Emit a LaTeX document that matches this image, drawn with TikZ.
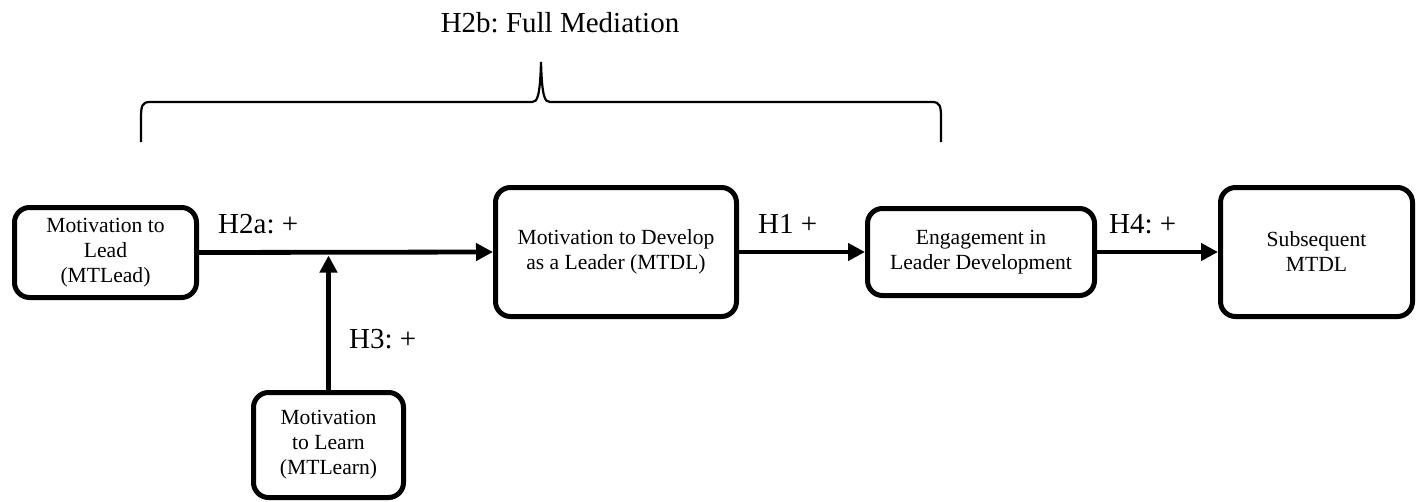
\documentclass[tikz,border=0pt]{standalone}
\usepackage{fontspec}
\setmainfont{Liberation Serif}
\usetikzlibrary{arrows.meta}
\tikzset{
  box/.style={draw, line width=5pt, rounded corners=15pt, align=center, inner sep=0pt,
    font=\fontsize{21.6}{25}\selectfont},
  arr/.style={line width=4.8pt, -{Triangle[length=17pt,width=17pt]}},
  lbl/.style={anchor=base west, inner sep=0pt, font=\fontsize{29}{34}\selectfont},
  bracepath/.style={line width=2.2pt},
}
\begin{document}
\frenchspacing
\begin{tikzpicture}[x=1pt,y=-1pt]
\useasboundingbox (0,0) rectangle (1418,501);
\node[box, minimum width=182pt, minimum height=90pt] (mtlead) at (105.5,252.5) {Motivation to\\Lead\\(MTLead)};
\node[box, minimum width=150pt, minimum height=105pt] (mtlearn) at (328.5,445) {Motivation\\to Learn\\(MTLearn)};
\node[box, minimum width=241pt, minimum height=129pt] (mtdl) at (616,252) {Motivation to Develop\\as a Leader (MTDL)};
\node[box, minimum width=227pt, minimum height=87pt] (eng) at (981,252) {Engagement in\\Leader Development};
\node[box, minimum width=192pt, minimum height=129pt] (sub) at (1316.5,252) {Subsequent\\MTDL};
\coordinate (j) at (328.5,255.5);
\draw[arr] (mtlead.east) -- (mtdl.west);
\draw[arr] (mtlearn.north) -- (j);
\draw[arr] (mtdl.east) -- (eng.west);
\draw[arr] (eng.east) -- (sub.west);
\node[lbl] (h2a) at (218,233) {H2a: +};
\node[lbl] (h3) at (349,348) {H3: +};
\node[lbl] (h1) at (758,233) {H1 +};
\node[lbl] (h4) at (1109,233) {H4: +};
\node[anchor=base, inner sep=0pt, font=\fontsize{29}{34}\selectfont] (title) at (560,32) {H2b: Full Mediation};
\draw[bracepath] (141,142) -- (141,118) .. controls (141,106) and (142,102) .. (150,102)
  -- (532,102) .. controls (537,102) and (540,98) .. (541,62)
  .. controls (542,98) and (545,102) .. (550,102)
  -- (932,102) .. controls (940,102) and (941,106) .. (941,118) -- (941,142);
\end{tikzpicture}
\end{document}
